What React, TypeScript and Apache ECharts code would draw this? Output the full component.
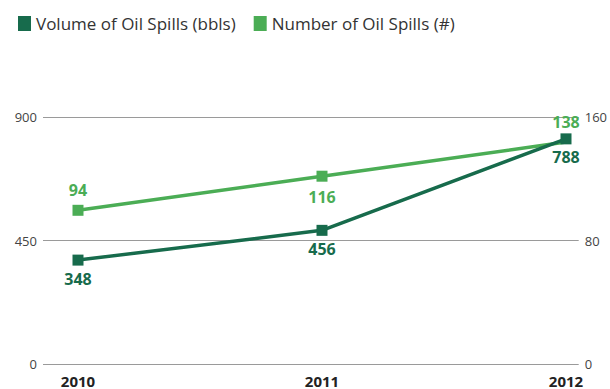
import React, { useEffect, useRef } from "react";
import * as echarts from "echarts";

const years = ["2010", "2011", "2012"];
const volume = [348, 456, 788];
const count = [94, 116, 138];
const volumeTicks = [0, 450, 900];
const countTicks = [0, 80, 160];

const DARK = "#176b4c";
const LIGHT = "#4bad55";
const FONT = "'Open Sans', 'Noto Sans', sans-serif";

export default function App() {
  const ref = useRef<HTMLDivElement>(null);
  useEffect(() => {
    if (!ref.current) return;
    const chart = echarts.init(ref.current, undefined, { renderer: "svg" });
    chart.setOption({
      animation: false,
      backgroundColor: "#ffffff",
      legend: {
        left: 13,
        top: 10,
        itemWidth: 13,
        itemHeight: 15,
        itemGap: 18,
        icon: "rect",
        textStyle: { fontFamily: FONT, fontSize: 17, color: "#333" },
        data: ["Volume of Oil Spills (bbls)", "Number of Oil Spills (#)"],
      },
      grid: [
        { left: 43, right: 25, top: 117, bottom: 25 },
        { left: 78, right: 44, top: 108, bottom: 33 },
      ],
      xAxis: [
        { gridIndex: 0, type: "category", data: years, show: false },
        {
          gridIndex: 1,
          type: "category",
          data: years,
          boundaryGap: false,
          axisLine: { show: false },
          axisTick: { show: false },
          splitLine: { show: false },
          axisLabel: {
            fontFamily: FONT,
            fontSize: 15,
            fontWeight: "bold",
            color: "#222",
            margin: 17,
          },
        },
      ],
      yAxis: [
        {
          gridIndex: 0,
          type: "value",
          min: volumeTicks[0],
          max: volumeTicks[2],
          interval: volumeTicks[1],
          position: "left",
          axisLine: { show: false },
          axisTick: { show: false },
          axisLabel: { fontFamily: FONT, fontSize: 13, color: "#444", margin: 6 },
          splitLine: { lineStyle: { color: "#9a9a9a", width: 1 } },
        },
        {
          gridIndex: 0,
          type: "value",
          min: countTicks[0],
          max: countTicks[2],
          interval: countTicks[1],
          position: "right",
          axisLine: { show: false },
          axisTick: { show: false },
          axisLabel: { fontFamily: FONT, fontSize: 13, color: "#444", margin: 6 },
          splitLine: { show: false },
        },
        { gridIndex: 1, type: "value", min: 0, max: 900, show: false, splitLine: { show: false } },
        { gridIndex: 1, type: "value", min: 0, max: 160, show: false, splitLine: { show: false } },
      ],
      series: [
        {
          name: "Number of Oil Spills (#)",
          type: "line",
          xAxisIndex: 1,
          yAxisIndex: 3,
          data: count.map((v, i) => ({
            value: v,
            symbolSize: i === count.length - 1 ? 0 : 11,
            label: { position: i === 1 ? "bottom" : "top", distance: i === count.length - 1 ? 12 : 7 },
          })),
          color: LIGHT,
          symbol: "rect",
          symbolSize: 11,
          lineStyle: { width: 3.5, color: LIGHT },
          itemStyle: { color: LIGHT },
          label: {
            show: true,
            fontFamily: FONT,
            fontSize: 16,
            fontWeight: "bold",
            color: LIGHT,
          },
          z: 2,
        },
        {
          name: "Volume of Oil Spills (bbls)",
          type: "line",
          xAxisIndex: 1,
          yAxisIndex: 2,
          data: volume,
          color: DARK,
          symbol: "rect",
          symbolSize: 11,
          lineStyle: { width: 3.5, color: DARK },
          itemStyle: { color: DARK },
          label: {
            show: true,
            fontFamily: FONT,
            fontSize: 16,
            fontWeight: "bold",
            color: DARK,
            position: "bottom",
            distance: 5,
          },
          z: 3,
        },
      ],
    });
    return () => chart.dispose();
  }, []);
  return <div ref={ref} style={{ width: 610, height: 389, position: "absolute", left: 0, top: 0 }} />;
}
